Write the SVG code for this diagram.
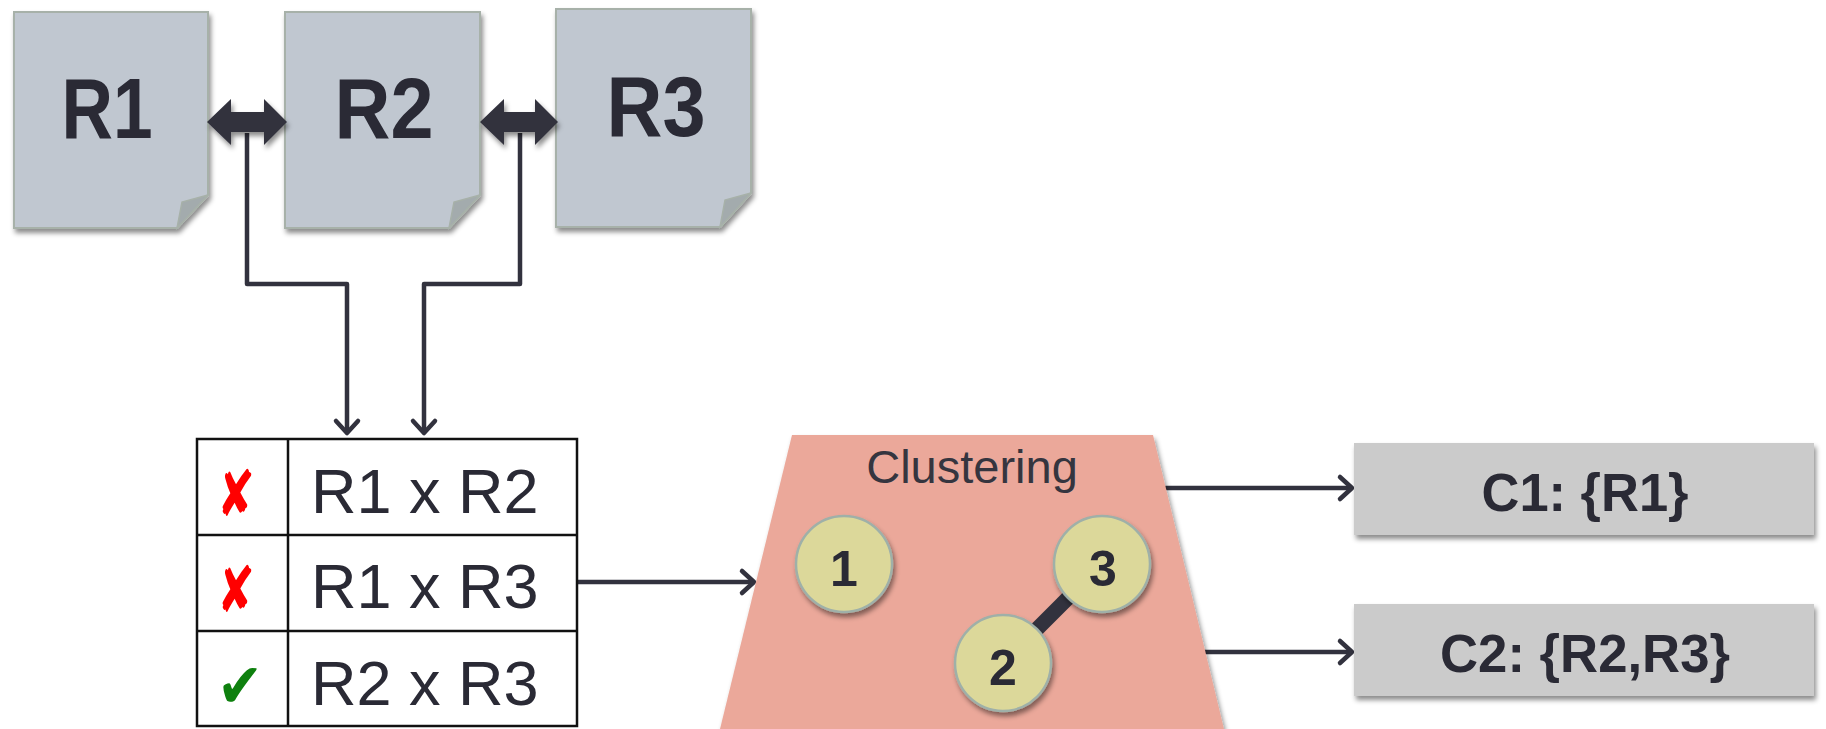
<svg xmlns="http://www.w3.org/2000/svg" width="1826" height="729" viewBox="0 0 1826 729">
<style>
.doc{fill:#c0c7d0;stroke:#a7b1a9;stroke-width:2}
.fold{fill:#a3abad;stroke:#a7b1a9;stroke-width:1.5}
.big{font-family:"Liberation Sans",Arial,sans-serif;font-weight:bold;font-size:86px;fill:#2a2a35;text-anchor:middle}
.cell{font-family:"Liberation Sans",Arial,sans-serif;font-size:63px;fill:#2a2a35}
.num{font-family:"Liberation Sans",Arial,sans-serif;font-weight:bold;font-size:50px;fill:#2a2a35;text-anchor:middle}
.lbl{font-family:"Liberation Sans",Arial,sans-serif;font-weight:bold;font-size:54px;fill:#2a2a35;text-anchor:middle}
.mark{font-family:"DejaVu Sans",sans-serif;text-anchor:middle}
.conn{fill:none;stroke:#32323e;stroke-width:4.5;stroke-linejoin:round}
.circ{fill:#dcd89a;stroke:#9fb0a8;stroke-width:2.5}
.box{fill:#cbcbcb}
.grid{fill:none;stroke:#111;stroke-width:2.5}
</style>
<defs>
<filter id="sh" x="-10%" y="-10%" width="130%" height="130%">
<feDropShadow dx="2" dy="4" stdDeviation="2.5" flood-color="#000" flood-opacity="0.45"/>
</filter>
<marker id="arr" markerUnits="userSpaceOnUse" markerWidth="34" markerHeight="34" viewBox="-17 -17 34 34" refX="0" refY="0" orient="auto">
<path d="M-12,-11 L0,0 L-12,11" fill="none" stroke="#32323e" stroke-width="4.5" stroke-linecap="round" stroke-linejoin="round"/>
</marker>
</defs>

<g id="connectors">
<path class="conn" d="M247,133 V284 H347 V433" marker-end="url(#arr)"/>
<path class="conn" d="M520,133 V284 H424 V433" marker-end="url(#arr)"/>
<path class="conn" d="M577,582 H754" marker-end="url(#arr)"/>
<path class="conn" d="M1164,488 H1352" marker-end="url(#arr)"/>
<path class="conn" d="M1204,652 H1352" marker-end="url(#arr)"/>
</g>

<g id="R1">
<path class="doc" filter="url(#sh)" d="M14,12 H208 V195 L177,228 H14 Z"/>
<path class="fold" d="M208,195 L182,202 L177,228 Z"/>
<text class="big" x="107" y="138" textLength="91" lengthAdjust="spacingAndGlyphs">R1</text>
</g>
<g id="R2">
<path class="doc" filter="url(#sh)" d="M285,12 H480 V195 L449,228 H285 Z"/>
<path class="fold" d="M480,195 L454,202 L449,228 Z"/>
<text class="big" x="384" y="138" textLength="99" lengthAdjust="spacingAndGlyphs">R2</text>
</g>
<g id="R3">
<path class="doc" filter="url(#sh)" d="M556,9 H751 V193 L720,227 H556 Z"/>
<path class="fold" d="M751,193 L725,200 L720,227 Z"/>
<text class="big" x="656" y="136" textLength="99" lengthAdjust="spacingAndGlyphs">R3</text>
</g>

<g id="link-R1-R2" filter="url(#sh)">
<path fill="#32323e" d="M207,122 L231,99 V112 H264 V99 L287,122 L264,145 V132 H231 V145 Z"/>
</g>
<g id="link-R2-R3" filter="url(#sh)">
<path fill="#32323e" d="M480,122 L504,99 V112 H535 V99 L558,122 L535,145 V132 H504 V145 Z"/>
</g>

<g id="pairs-table">
<rect class="grid" x="197" y="439" width="380" height="287" fill="#fff"/>
<line class="grid" x1="288" y1="439" x2="288" y2="726"/>
<line class="grid" x1="197" y1="535" x2="577" y2="535"/>
<line class="grid" x1="197" y1="631" x2="577" y2="631"/>
<text class="mark" x="236" y="516" font-size="64" fill="#ff0000" textLength="38" lengthAdjust="spacingAndGlyphs">✘</text>
<text class="mark" x="236" y="612" font-size="64" fill="#ff0000" textLength="38" lengthAdjust="spacingAndGlyphs">✘</text>
<text class="mark" x="240" y="707" font-size="62" fill="#0e800e" textLength="46" lengthAdjust="spacingAndGlyphs">✔</text>
<text class="cell" x="311" y="513">R1 x R2</text>
<text class="cell" x="311" y="608">R1 x R3</text>
<text class="cell" x="311" y="705">R2 x R3</text>
</g>

<g id="clustering">
<polygon points="792,435 1153,435 1224,729 720,729" fill="#eba89a" filter="url(#sh)"/>
<text x="972" y="483" font-family="Liberation Sans,Arial,sans-serif" font-size="47" fill="#35353f" text-anchor="middle">Clustering</text>
<line x1="1003" y1="663" x2="1102" y2="564" stroke="#32323e" stroke-width="15"/>
<g id="node-1"><circle class="circ" cx="844" cy="564" r="48" filter="url(#sh)"/><text class="num" x="844" y="586">1</text></g>
<g id="node-3"><circle class="circ" cx="1102" cy="564" r="48" filter="url(#sh)"/><text class="num" x="1103" y="586">3</text></g>
<g id="node-2"><circle class="circ" cx="1003" cy="663" r="48" filter="url(#sh)"/><text class="num" x="1003" y="685">2</text></g>
</g>

<g id="C1">
<rect class="box" x="1354" y="443" width="460" height="92" filter="url(#sh)"/>
<text class="lbl" x="1585" y="511" textLength="207" lengthAdjust="spacingAndGlyphs">C1: {R1}</text>
</g>
<g id="C2">
<rect class="box" x="1354" y="604" width="460" height="92" filter="url(#sh)"/>
<text class="lbl" x="1585" y="672" textLength="290" lengthAdjust="spacingAndGlyphs">C2: {R2,R3}</text>
</g>
</svg>
